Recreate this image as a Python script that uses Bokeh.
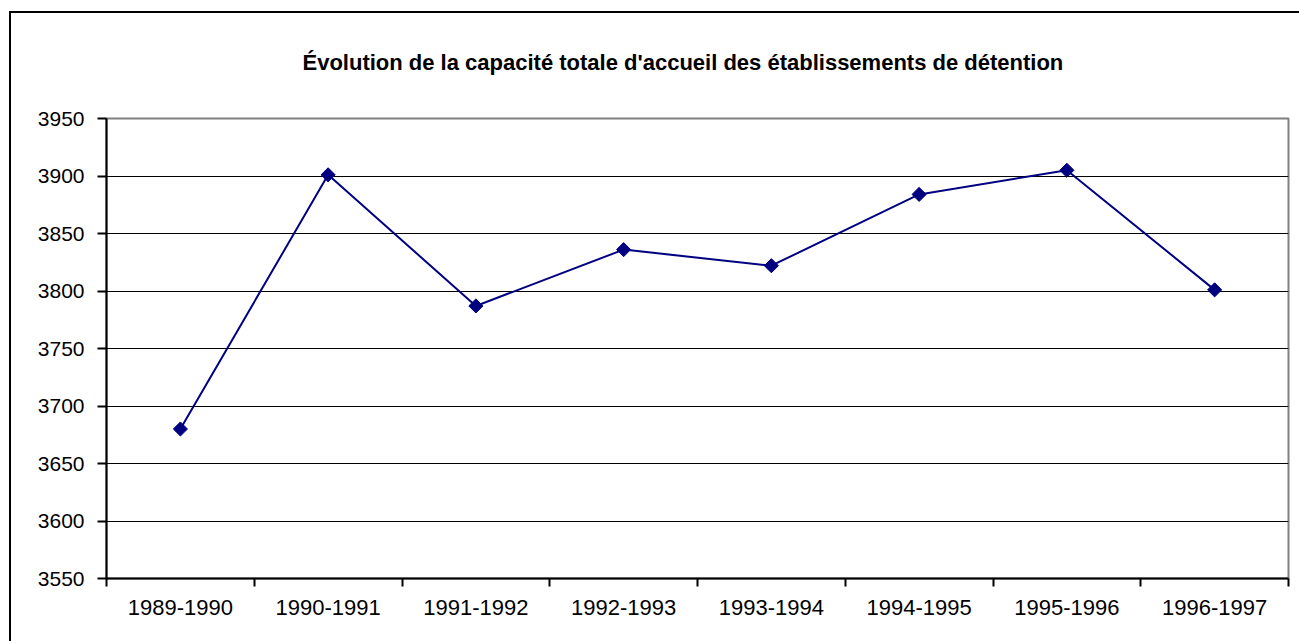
from bokeh.plotting import figure
from bokeh.models import ColumnDataSource, FixedTicker, Range1d
from bokeh.embed import file_html
from bokeh.resources import INLINE
import math

categories = ["1989-1990", "1990-1991", "1991-1992", "1992-1993",
              "1993-1994", "1994-1995", "1995-1996", "1996-1997"]
capacity = [3680, 3901, 3787, 3836, 3822, 3884, 3905, 3801]
y_ticks = [3550, 3600, 3650, 3700, 3750, 3800, 3850, 3900, 3950]
title_text = "Évolution de la capacité totale d'accueil des établissements de détention"

xs = [i + 0.5 for i in range(len(categories))]
src = ColumnDataSource(dict(x=xs, y=capacity, label=categories))

FONT = "Liberation Sans"
W, H = 1299, 641
BL, BR, BT, BB = 106, 11, 118, 63   # frame borders

p = figure(width=W, height=H, output_backend="svg", toolbar_location=None,
           x_range=Range1d(0, len(categories)), y_range=Range1d(3550, 3950),
           min_border_left=BL, min_border_right=BR, min_border_top=BT,
           min_border_bottom=BB, title=title_text)
p.background_fill_color = "white"
p.border_fill_color = None
p.outline_line_color = "#808080"
p.outline_line_width = 2

# outer chart frame drawn behind the transparent border area
p.styles = {
    "background-color": "white",
    "background-image": "linear-gradient(black, black), linear-gradient(black, black)",
    "background-size": "2px 2000px, 3000px 2px",
    "background-position": "9px 11px, 9px 11px",
    "background-repeat": "no-repeat",
}

# title
p.title.text_font = FONT
p.title.text_font_style = "bold"
p.title.text_font_size = "22px"
p.title.text_color = "black"
p.title.align = "left"
p.title.offset = 196
p.title.standoff = 87

# x axis
xa = p.xaxis[0]
xa.ticker = FixedTicker(ticks=xs, minor_ticks=list(range(len(categories) + 1)))
xa.major_label_overrides = {x: c for x, c in zip(xs, categories)}
xa.major_tick_out = 0
xa.major_tick_in = 0
xa.minor_tick_out = 8
xa.minor_tick_in = 0
xa.minor_tick_line_color = "black"
xa.minor_tick_line_width = 2
xa.axis_line_color = "black"
xa.axis_line_width = 2
xa.major_label_text_font = FONT
xa.major_label_text_font_size = "22px"
xa.major_label_text_color = "black"
xa.major_label_standoff = 13

# y axis
ya = p.yaxis[0]
ya.ticker = FixedTicker(ticks=y_ticks, minor_ticks=[])
ya.major_tick_out = 9
ya.major_tick_in = 0
ya.major_tick_line_color = "black"
ya.major_tick_line_width = 2
ya.axis_line_color = "black"
ya.axis_line_width = 2
ya.major_label_text_font = FONT
ya.major_label_text_font_size = "21px"
ya.major_label_text_color = "black"
ya.major_label_standoff = 13

p.xgrid.visible = False
p.ygrid.ticker = FixedTicker(ticks=y_ticks[1:-1], minor_ticks=[])
p.ygrid.grid_line_color = "black"
p.ygrid.grid_line_width = 1

p.line("x", "y", source=src, line_color="#000080", line_width=2)
p.scatter("x", "y", source=src, marker="square", size=10, angle=math.pi / 4,
          fill_color="#000080", line_color="#000080")

open("out.html", "w").write(file_html(p, INLINE))
